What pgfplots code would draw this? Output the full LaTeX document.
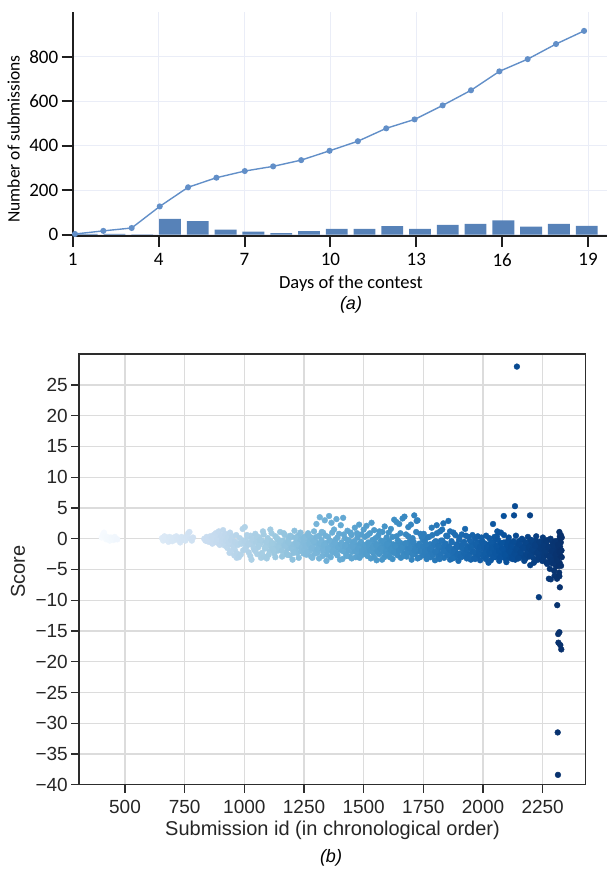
\documentclass[border=0pt]{standalone}
\usepackage{pgfplots}
\pgfplotsset{compat=1.18}
\usepackage{fontspec}
\setmainfont{Liberation Sans}
\newfontfamily\carlito{Carlito}
\newfontfamily\libsans{Liberation Sans}
\definecolor{linec}{RGB}{98,143,200}
\definecolor{barc}{RGB}{87,130,184}
\definecolor{gridA}{RGB}{234,237,247}
\definecolor{gridB}{RGB}{220,220,220}
\definecolor{frameB}{RGB}{45,45,45}
\pgfplotsset{colormap={myblues}{rgb255=(247,251,255) rgb255=(222,235,247) rgb255=(198,219,239) rgb255=(158,202,225) rgb255=(107,174,214) rgb255=(66,146,198) rgb255=(33,113,181) rgb255=(8,81,156) rgb255=(8,48,107)}}
\begin{document}
\begin{tikzpicture}[x=1pt,y=1pt]
\path[use as bounding box] (0,0) rectangle (608,879);
% ---------------- panel (a)
\begin{axis}[
  at={(72.7pt,643pt)}, anchor=south west,
  scale only axis, width=534.3pt, height=223.8pt,
  xmin=1, xmax=19.66, ymin=-6, ymax=1000,
  axis x line*=bottom, axis y line*=left,
  axis line style={line width=2.2pt, color=black!88},
  tick align=outside, major tick length=11pt,
  tick style={line width=2pt, color=black!88},
  xtick={1,4,...,19}, ytick={0,200,400,600,800},
  grid=major, major grid style={color=gridA, line width=0.8pt},
  tick label style={font=\carlito\fontsize{19}{19}\selectfont},
  xticklabel style={yshift=-3pt},
  /pgf/number format/assume math mode=true,
  clip=false,
]
\addplot[ybar, bar width=21.8pt, fill=barc, draw=none] coordinates {
 (1.49,3) (2.46,3) (3.43,1) (4.40,71) (5.37,61) (6.34,23) (7.31,14) (8.28,7)
 (9.25,16) (10.22,26) (11.19,26) (12.16,38) (13.13,26) (14.10,44) (15.07,49)
 (16.04,64) (17.01,36) (17.98,48) (18.95,40)};
\addplot[color=linec, line width=1.4pt, mark=*, mark size=2.3pt, mark options={fill=linec, draw=linec}] coordinates {
 (1.08,3) (2.07,17) (3.06,30) (4.04,127) (5.03,213) (6.02,256) (7.01,286)
 (8.00,307) (8.98,335) (9.97,377) (10.96,420) (11.95,478) (12.94,518)
 (13.92,581) (14.91,649) (15.90,734) (16.89,789) (17.88,857) (18.86,916)};
\end{axis}
\node[rotate=90, font=\carlito\fontsize{17.5}{17.5}\selectfont] at (13.6,740) {Number of submissions};
\node[font=\carlito\fontsize{18.5}{18.5}\selectfont] at (351,595) {Days of the contest};
\node[font=\libsans\itshape\fontsize{18}{18}\selectfont] at (351,574) {(a)};
% ---------------- panel (b)
\begin{axis}[
  at={(79.3pt,94.3pt)}, anchor=south west,
  scale only axis, width=506pt, height=430.4pt,
  xmin=308.5, xmax=2428.6, ymin=-40, ymax=30,
  axis line style={line width=1.6pt, color=frameB},
  tick pos=left, tick align=outside, major tick length=8pt,
  tick style={line width=1.2pt, color=frameB},
  xtick={500,750,1000,1250,1500,1750,2000,2250},
  ytick={-40,-35,-30,-25,-20,-15,-10,-5,0,5,10,15,20,25},
  yticklabels={−40,−35,−30,−25,−20,−15,−10,−5,0,5,10,15,20,25},
  grid=major, major grid style={color=gridB, line width=1.1pt},
  tick label style={font=\libsans\fontsize{19}{19}\selectfont, color=black!85},
  xticklabel style={yshift=-4pt},
  /pgf/number format/assume math mode=true,
  /pgf/number format/1000 sep={},
  colormap name=myblues, point meta min=400, point meta max=2330,
]
\addplot[scatter, only marks, mark=*, mark size=2.9pt, scatter src=x,
  scatter/use mapped color={draw=mapped color, fill=mapped color}] coordinates {
(402,0.2) (408,0.7) (412,1.0) (417,0.4) (421,-0.1) (426,0.3) (431,0.0) (436,-0.3) (441,0.2) (446,0.1) (452,-0.2) (457,0.3) (462,0.0) (468,-0.1)
(655,0.1) (660,-0.3) (665,0.4) (671,-0.1) (676,0.2) (682,-0.5) (687,0.3) (693,0.0) (698,-0.4) (704,0.2) (709,-0.2) (715,0.4) (720,-0.1) (726,0.1) (731,-0.6) (737,0.3) (742,-0.2) (748,0.1) (753,-0.3) (759,0.4) (765,0.9) (770,1.1) (775,0.0) (780,-0.3) (785,0.2)
(832,0.0) (837,-0.3) (842,0.3) (847,0.1) (852,-0.5) (857,0.4) (862,0.0) (866,-0.8) (871,0.6) (875,-0.2) (880,0.9) (884,-0.6) (889,0.3) (893,1.2) (897,-1.0) (900,0.1)
(845,-0.4) (868,0.2) (886,-0.2) (915,-0.6) (928,0.5) (945,-0.9) (960,-1.8) (979,-0.8) (995,-1.9) (938,-2.3) (968,-3.1)
(904,0.5) (907,-0.4) (911,1.4) (914,0.0) (918,-1.1) (921,0.8) (925,-0.3) (929,-1.5) (932,0.2) (936,-0.7) (940,1.0) (943,-2.0) (947,-0.2) (951,0.4) (955,-1.3) (958,-2.7) (962,-0.5) (966,0.6) (970,-2.4) (973,-1.0) (977,-3.0) (981,0.1) (985,-2.6) (989,-0.8) (993,1.6) (997,-0.3)
(1002,1.9) (1006,-0.4) (1010,-1.2) (1014,0.3) (1018,-2.2) (1022,-0.7) (1026,0.5) (1030,-3.4) (1034,-1.0) (1038,-0.2) (1042,-1.8) (1046,0.8) (1050,-0.5) (1054,-2.5) (1058,-1.4) (1062,0.2) (1066,-0.9) (1070,-3.1) (1074,-0.3) (1078,1.2) (1082,-2.9) (1086,-1.6) (1090,-0.6) (1094,-3.2) (1098,0.1) (1102,-1.1) (1106,-2.0) (1110,-0.4) (1114,0.9) (1118,-1.5) (1122,-0.8) (1126,-2.4) (1130,0.4) (1134,-1.2) (1138,-0.1) (1142,-1.9) (1146,-0.6) (1150,1.1) (1154,-1.4) (1158,-2.9) (1162,-0.3) (1166,-1.0) (1170,0.6) (1174,-2.2) (1178,-0.7) (1182,-1.6) (1186,0.0) (1190,-2.7) (1194,-1.1) (1198,0.3) (1202,-3.4) (1206,-0.9) (1210,1.3) (1214,-1.7) (1218,-0.4) (1222,-2.3) (1226,0.5) (1230,-1.3) (1234,-0.2) (1238,-2.0) (1242,-0.8) (1246,0.2)
(1004,-1.6) (1011,0.6) (1018,-0.9) (1025,-2.8) (1032,0.0) (1039,-1.5) (1046,-2.0) (1053,0.4) (1060,-1.1) (1067,-0.2) (1074,-2.3) (1081,0.7) (1088,-1.3) (1095,-0.5) (1102,-2.6) (1109,1.5) (1116,-0.8) (1123,-1.8) (1130,-3.0) (1137,0.1) (1144,-1.4) (1151,-0.3) (1158,-2.0) (1165,0.9) (1172,-1.2) (1179,-2.6) (1186,-0.6) (1193,0.5) (1200,-1.7) (1207,-2.3) (1214,0.2) (1221,-0.9) (1228,-3.1) (1235,1.0) (1242,-1.5) (1248,-2.4)
(1250,-0.6) (1253,-1.8) (1257,0.4) (1260,-2.6) (1264,-1.1) (1267,0.9) (1271,-0.3) (1274,-2.0) (1278,-1.4) (1281,0.2) (1285,-3.1) (1288,-0.8) (1292,1.2) (1295,-1.7) (1299,-0.5) (1302,2.4) (1306,-2.3) (1309,-1.0) (1313,0.5) (1316,3.5) (1320,-1.5) (1323,-0.2) (1327,-2.8) (1330,1.0) (1334,-1.2) (1337,3.0) (1341,-0.7) (1344,-3.6) (1348,-1.9) (1351,0.3) (1355,3.7) (1358,-1.3) (1362,-0.4) (1365,2.6) (1369,-2.2) (1372,-0.9) (1376,1.5) (1379,-1.6) (1383,-0.1) (1386,3.2) (1390,-2.7) (1393,-1.0) (1397,0.8) (1400,-1.8) (1404,2.2) (1407,-0.6) (1411,-3.3) (1414,3.4) (1418,-1.4) (1421,0.1) (1425,-2.4) (1428,-0.9) (1432,1.3) (1435,-1.7) (1439,-0.3) (1442,-2.9) (1446,-1.2) (1449,0.6) (1453,-2.1) (1456,-0.7) (1460,-1.5) (1463,1.8) (1467,-3.0) (1470,-1.1) (1474,0.2) (1477,-2.3) (1481,2.3) (1484,-0.8) (1488,-1.6) (1491,0.7) (1495,-2.6) (1498,-1.0)
(1252,0.1) (1258,-1.2) (1263,-2.2) (1269,0.6) (1274,-0.9) (1280,-2.9) (1285,-1.5) (1291,-0.4) (1296,-2.4) (1302,0.3) (1307,-1.7) (1313,-3.2) (1318,-0.7) (1324,1.1) (1329,-2.0) (1335,-1.0) (1340,0.5) (1346,-2.6) (1351,-1.6) (1357,-0.3) (1362,-3.0) (1368,1.0) (1373,-1.9) (1379,-0.6) (1384,-2.4) (1390,0.2) (1395,-1.4) (1401,-3.4) (1406,-0.9) (1412,-2.0) (1417,0.7) (1423,-1.2) (1428,-2.8) (1434,-0.2) (1439,-1.9) (1445,1.0) (1450,-3.2) (1456,-1.3) (1461,-0.4) (1467,-2.1) (1472,0.9) (1478,-1.6) (1483,-3.1) (1489,-0.5) (1494,-2.0)
(1502,-2.0) (1505,0.3) (1509,-1.3) (1512,2.1) (1516,-2.8) (1519,-0.6) (1523,-1.7) (1526,0.9) (1530,-3.2) (1533,-1.1) (1537,-0.2) (1540,-2.3) (1544,1.4) (1547,-1.5) (1551,-0.8) (1554,-3.5) (1558,-1.9) (1561,0.5) (1565,-2.5) (1568,-1.0) (1572,-0.3) (1575,-2.1) (1579,1.1) (1582,-1.4) (1586,-3.0) (1589,-0.7) (1593,-1.8) (1596,0.2) (1600,-2.6) (1603,-1.2) (1607,-0.4) (1610,-2.2) (1614,1.6) (1617,-1.6) (1621,-3.3) (1624,-0.9) (1628,3.1) (1631,-2.0) (1635,-1.1) (1638,0.4) (1642,-2.7) (1645,-1.4) (1649,2.4) (1652,-0.6) (1656,-3.1) (1659,-1.8) (1663,3.3) (1666,-0.9) (1670,-2.4) (1673,-1.3) (1677,0.7) (1680,-2.9) (1684,-1.6) (1687,1.9) (1691,-0.5) (1694,-2.2) (1698,-1.0) (1701,-3.4) (1705,0.1) (1708,-1.7) (1712,3.8) (1715,-2.5) (1719,-1.2) (1722,2.9) (1726,3.0) (1729,-2.0) (1733,-0.8) (1736,-3.0) (1740,-1.5) (1743,0.3) (1747,-2.3)
(1500,1.5) (1506,-1.0) (1511,-2.4) (1517,0.6) (1522,-0.9) (1528,-2.0) (1533,2.6) (1539,-1.4) (1544,-3.0) (1550,0.1) (1555,-1.1) (1561,-2.2) (1566,1.2) (1572,-1.6) (1577,-3.4) (1583,-0.4) (1588,2.0) (1594,-2.5) (1599,-0.9) (1605,1.0) (1610,-3.0) (1616,-1.8) (1621,0.3) (1627,-2.3) (1632,-1.2) (1638,2.7) (1643,-0.3) (1649,-2.0) (1654,0.9) (1660,-1.4) (1665,-2.8) (1671,3.6) (1676,-0.7) (1682,-2.2) (1687,0.4) (1693,-1.5) (1698,2.3) (1704,-2.6) (1709,-0.5) (1715,-1.9) (1720,1.1) (1726,-3.2) (1731,-1.1) (1737,0.8) (1742,-2.1) (1748,-0.2)
(1750,-1.2) (1753,-2.7) (1757,-0.5) (1760,-1.9) (1764,-3.3) (1767,0.2) (1771,-1.4) (1774,-2.4) (1778,-0.9) (1781,-3.0) (1785,-1.7) (1788,0.6) (1792,-2.2) (1795,-1.1) (1799,-3.5) (1802,-0.4) (1806,2.2) (1809,-1.9) (1813,-2.8) (1816,-1.0) (1820,1.2) (1823,-2.5) (1827,-1.5) (1830,-0.3) (1834,2.5) (1837,-3.1) (1841,-1.8) (1844,-0.8) (1848,-2.3) (1851,0.4) (1855,2.9) (1858,-1.3) (1862,-3.4) (1865,-2.0) (1869,-0.6) (1872,-2.6) (1876,1.0) (1879,-1.6) (1883,-3.0) (1886,-2.2) (1890,-0.9) (1893,-1.4) (1897,-3.6) (1900,-0.2) (1904,-2.4) (1907,-1.1) (1911,0.7) (1914,-2.9) (1918,-1.7) (1921,-0.5) (1925,1.6) (1928,-2.1) (1932,-3.2) (1935,-1.2) (1939,0.3) (1942,-2.6) (1946,-1.5) (1949,-3.4) (1953,-0.7) (1956,-2.0) (1960,-1.0) (1963,-3.1) (1967,0.0) (1970,-2.3) (1974,-1.4) (1977,-2.8) (1981,-0.6) (1984,-1.9) (1988,-3.5) (1991,-1.2) (1995,-2.5) (1998,-0.4)
(1752,0.8) (1758,-2.3) (1763,-1.0) (1769,-2.9) (1774,0.3) (1780,-1.6) (1785,1.8) (1791,-2.6) (1796,-0.6) (1802,-2.1) (1807,0.9) (1813,-1.2) (1818,-3.3) (1824,-0.3) (1829,1.5) (1835,-2.0) (1840,-1.0) (1846,0.5) (1851,-2.7) (1857,-1.5) (1862,1.2) (1868,-0.4) (1873,-3.2) (1879,-2.1) (1884,0.6) (1890,-1.2) (1895,-2.5) (1901,0.2) (1906,-3.0) (1912,-1.5) (1917,-0.8) (1923,-2.4) (1928,0.5) (1934,-1.8) (1939,-2.9) (1945,-0.3) (1950,-1.4) (1956,0.6) (1961,-2.2) (1967,-3.3) (1972,-0.8) (1978,0.4) (1983,-2.6) (1989,-1.3) (1994,0.2)
(2002,-2.9) (2005,-1.6) (2009,-0.8) (2012,-3.3) (2016,-2.1) (2019,-1.0) (2023,-2.6) (2026,0.1) (2030,-1.8) (2033,-3.5) (2037,-1.3) (2040,-2.4) (2042,2.4) (2044,-0.5) (2047,-2.0) (2051,-3.0) (2054,-1.1) (2058,0.4) (2060,1.2) (2061,-2.7) (2065,-1.5) (2068,-3.6) (2072,-0.9) (2075,1.0) (2076,-2.2) (2079,-1.7) (2083,-2.9) (2087,3.7) (2088,-0.6) (2091,-2.0) (2095,-3.3) (2098,-1.2) (2102,-2.5) (2105,-0.3) (2109,-1.9) (2112,-3.1) (2116,-1.4) (2119,-2.3) (2123,-0.7) (2126,-2.8) (2130,3.8) (2131,-1.6) (2134,5.3) (2135,-3.4) (2138,-2.1) (2142,28.0) (2143,-1.0) (2146,-2.6) (2150,-0.4) (2153,-1.8) (2157,-3.0) (2160,-2.3) (2164,-1.2) (2167,-0.2) (2171,-2.7) (2174,-1.5) (2178,-3.2) (2181,-0.8) (2185,-2.0) (2188,-1.3) (2192,-2.9) (2195,-0.5) (2197,3.8) (2198,-4.3) (2200,-1.8) (2203,-2.4) (2207,-0.9) (2210,-3.1) (2214,-1.6) (2217,-2.2) (2221,-0.3) (2224,-3.5) (2228,-1.4) (2231,-2.6) (2234,-9.5) (2235,-0.7) (2238,-2.0) (2242,-3.3) (2245,-1.1) (2249,-2.5)
(2003,-0.9) (2008,-2.3) (2013,0.5) (2018,-1.4) (2023,-3.9) (2028,-2.2) (2033,-0.6) (2038,-1.5) (2043,-3.0) (2048,0.3) (2053,-2.4) (2058,-1.3) (2063,-0.2) (2068,-2.0) (2073,-3.1) (2078,-0.7) (2083,-1.6) (2088,0.6) (2093,-2.6) (2098,-3.8) (2103,-1.0) (2108,0.2) (2113,-2.1) (2118,-1.2) (2123,-3.3) (2128,-0.4) (2133,-2.4) (2138,0.5) (2143,-1.8) (2148,-3.2) (2153,-0.9) (2158,-2.2) (2163,0.0) (2168,-1.5) (2173,-3.6) (2178,-0.6) (2183,-2.5) (2188,0.3) (2193,-1.4) (2198,-2.8) (2203,-0.2) (2208,-1.7) (2213,-3.9) (2218,-1.1) (2223,0.4) (2228,-2.3) (2233,-3.0) (2238,-0.5) (2243,-1.6) (2248,-3.6)
(2252,-1.5) (2255,-3.0) (2258,-0.4) (2261,-2.2) (2264,-3.8) (2267,-1.0) (2270,-2.7) (2273,-0.2) (2276,-6.5) (2278,-1.8) (2280,-4.9) (2282,-3.3) (2284,-6.6) (2286,-2.4) (2288,-1.2) (2290,-4.0) (2292,-0.6) (2294,-2.9) (2296,-3.6) (2298,-5.2) (2300,-6.0) (2302,-1.6) (2304,-2.6) (2306,-4.5) (2308,-0.9) (2310,-6.5) (2311,-10.8) (2312,-3.2) (2313,-31.5) (2314,-38.4) (2315,-15.5) (2316,-16.9) (2317,-2.0) (2318,-0.2) (2319,-5.5) (2320,1.1) (2320,-15.2) (2320,-6.1) (2321,-3.9) (2322,-7.9) (2322,0.4) (2323,-1.3) (2324,-17.3) (2325,-2.8) (2326,-0.6) (2327,-4.4) (2328,-18.0) (2329,-1.9) (2330,0.2)
(2251,0.2) (2256,-1.0) (2260,-2.0) (2265,-0.3) (2269,-4.1) (2274,-1.4) (2279,-2.9) (2283,0.0) (2287,-3.6) (2291,-2.0) (2295,-1.1) (2299,-4.0) (2303,-0.4) (2307,-2.4) (2311,-3.5) (2315,-1.0) (2318,-4.4) (2322,-2.2) (2326,0.6) (2330,-3.0)
};
\end{axis}
\node[rotate=90, font=\libsans\fontsize{20}{20}\selectfont, color=black!85] at (18,307.3) {Score};
\node[font=\libsans\fontsize{20}{20}\selectfont, color=black!85] at (332.5,49) {Submission id (in chronological order)};
\node[font=\libsans\itshape\fontsize{18}{18}\selectfont] at (331,21) {(b)};
\end{tikzpicture}
\end{document}
